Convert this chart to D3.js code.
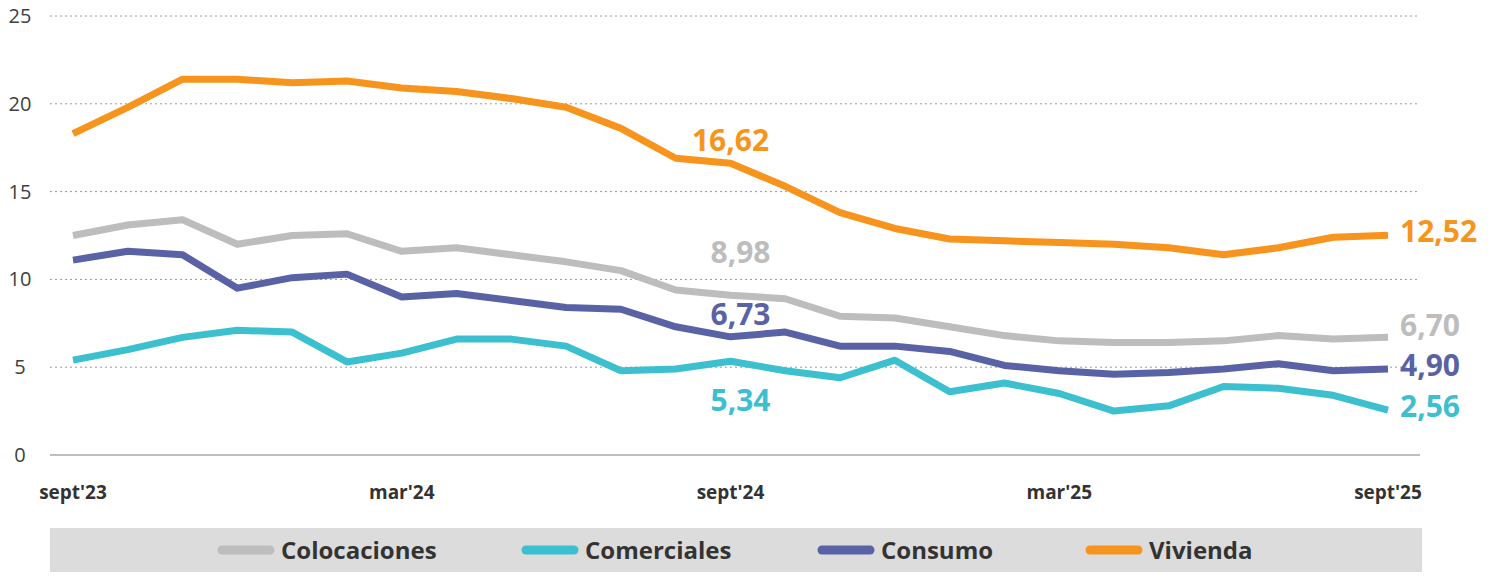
<!DOCTYPE html>
<html><head><meta charset="utf-8">
<script src="https://cdn.jsdelivr.net/npm/d3@7"></script>
<style>body{margin:0;background:#fff;font-family:"Open Sans",sans-serif}</style>
</head><body>
<script>
// monthly series, sept'23 .. sept'25
const months = d3.range(25);
const tickLabels = ["sept'23", "mar'24", "sept'24", "mar'25", "sept'25"];
const tickIdx = [0, 6, 12, 18, 24];
const colocaciones = [12.5,13.1,13.4,12.0,12.5,12.6,11.6,11.8,11.4,11.0,10.5,9.4,9.1,8.9,7.9,7.8,7.3,6.8,6.5,6.4,6.4,6.5,6.8,6.6,6.70];
const comerciales  = [5.4,6.0,6.7,7.1,7.0,5.3,5.8,6.6,6.6,6.2,4.8,4.9,5.34,4.8,4.4,5.4,3.6,4.1,3.5,2.5,2.8,3.9,3.8,3.4,2.56];
const consumo      = [11.1,11.6,11.4,9.5,10.1,10.3,9.0,9.2,8.8,8.4,8.3,7.3,6.73,7.0,6.2,6.2,5.9,5.1,4.8,4.6,4.7,4.9,5.2,4.8,4.90];
const vivienda     = [18.3,19.8,21.4,21.4,21.2,21.3,20.9,20.7,20.3,19.8,18.6,16.9,16.62,15.3,13.8,12.9,12.3,12.2,12.1,12.0,11.8,11.4,11.8,12.4,12.52];
const series = [
  {name:"Colocaciones", values:colocaciones, color:"#bdbdbd"},
  {name:"Comerciales", values:comerciales, color:"#3cc0cf"},
  {name:"Consumo", values:consumo, color:"#5a62a6"},
  {name:"Vivienda", values:vivienda, color:"#f7941d"}
];
// labels: [series index, month index, text, dx, dy]
const midLabels = [[3,12,"16,62",0,-12],[0,12,"8,98",10,-32],[2,12,"6,73",10,-12],[1,12,"5,34",10,50]];
const endLabels = [[3,"12,52",-4],[0,"6,70",-12],[2,"4,90",-4],[1,"2,56",-4]];

const W = 1500, H = 584;
const svg = d3.select("body").append("svg").attr("width", W).attr("height", H);
const x = d3.scaleLinear().domain([0, 24]).range([73, 1388]);
const y = d3.scaleLinear().domain([0, 25]).range([455, 16]);

svg.append("g").selectAll("line").data([5,10,15,20,25]).join("line")
  .attr("x1", 50).attr("x2", 1420).attr("y1", d => y(d)).attr("y2", d => y(d))
  .attr("stroke", "#9a9a9a").attr("stroke-width", 1).attr("stroke-dasharray", "2,3");
svg.append("line").attr("x1", 50).attr("x2", 1420).attr("y1", y(0)).attr("y2", y(0))
  .attr("stroke", "#aaa").attr("stroke-width", 1.5);

svg.append("g").selectAll("text").data([0,5,10,15,20,25]).join("text")
  .attr("x", 20).attr("y", d => y(d) + 7).attr("text-anchor", "middle")
  .attr("font-size", 20).attr("fill", "#404040").text(d => d);

svg.append("g").selectAll("text").data(tickIdx).join("text")
  .attr("x", d => x(d)).attr("y", 499).attr("text-anchor", "middle")
  .attr("font-size", 19).attr("font-weight", "bold").attr("fill", "#333")
  .text((d, i) => tickLabels[i]);

const line = d3.line().x((d, i) => x(i)).y(d => y(d));
svg.append("g").selectAll("path").data(series).join("path")
  .attr("d", d => line(d.values)).attr("fill", "none")
  .attr("stroke", d => d.color).attr("stroke-width", 7)
  .attr("stroke-linejoin", "round");

const lblFont = 30;
svg.append("g").selectAll("text").data(midLabels).join("text")
  .attr("x", d => x(d[1]) + d[3]).attr("y", d => y(series[d[0]].values[d[1]]) + d[4])
  .attr("text-anchor", "middle").attr("font-size", lblFont).attr("font-weight", "bold")
  .attr("fill", d => series[d[0]].color).text(d => d[2]);
svg.append("g").selectAll("text").data(endLabels).join("text")
  .attr("x", 1400).attr("y", d => y(series[d[0]].values[24]) + 11 + d[2])
  .attr("font-size", lblFont).attr("font-weight", "bold")
  .attr("fill", d => series[d[0]].color).text(d => d[1]);

// legend band
svg.append("rect").attr("x", 50).attr("y", 528).attr("width", 1372).attr("height", 44).attr("fill", "#dcdcdc");
const legX = [218, 522, 818, 1086];
const lg = svg.append("g").selectAll("g").data(series).join("g")
  .attr("transform", (d, i) => `translate(${legX[i]},550)`);
lg.append("line").attr("x1", 4).attr("x2", 52).attr("stroke", d => d.color)
  .attr("stroke-width", 9).attr("stroke-linecap", "round");
lg.append("text").attr("x", 63).attr("y", 9).attr("font-size", 24).attr("font-weight", "bold")
  .attr("fill", "#333").text(d => d.name);
</script>
</body></html>
